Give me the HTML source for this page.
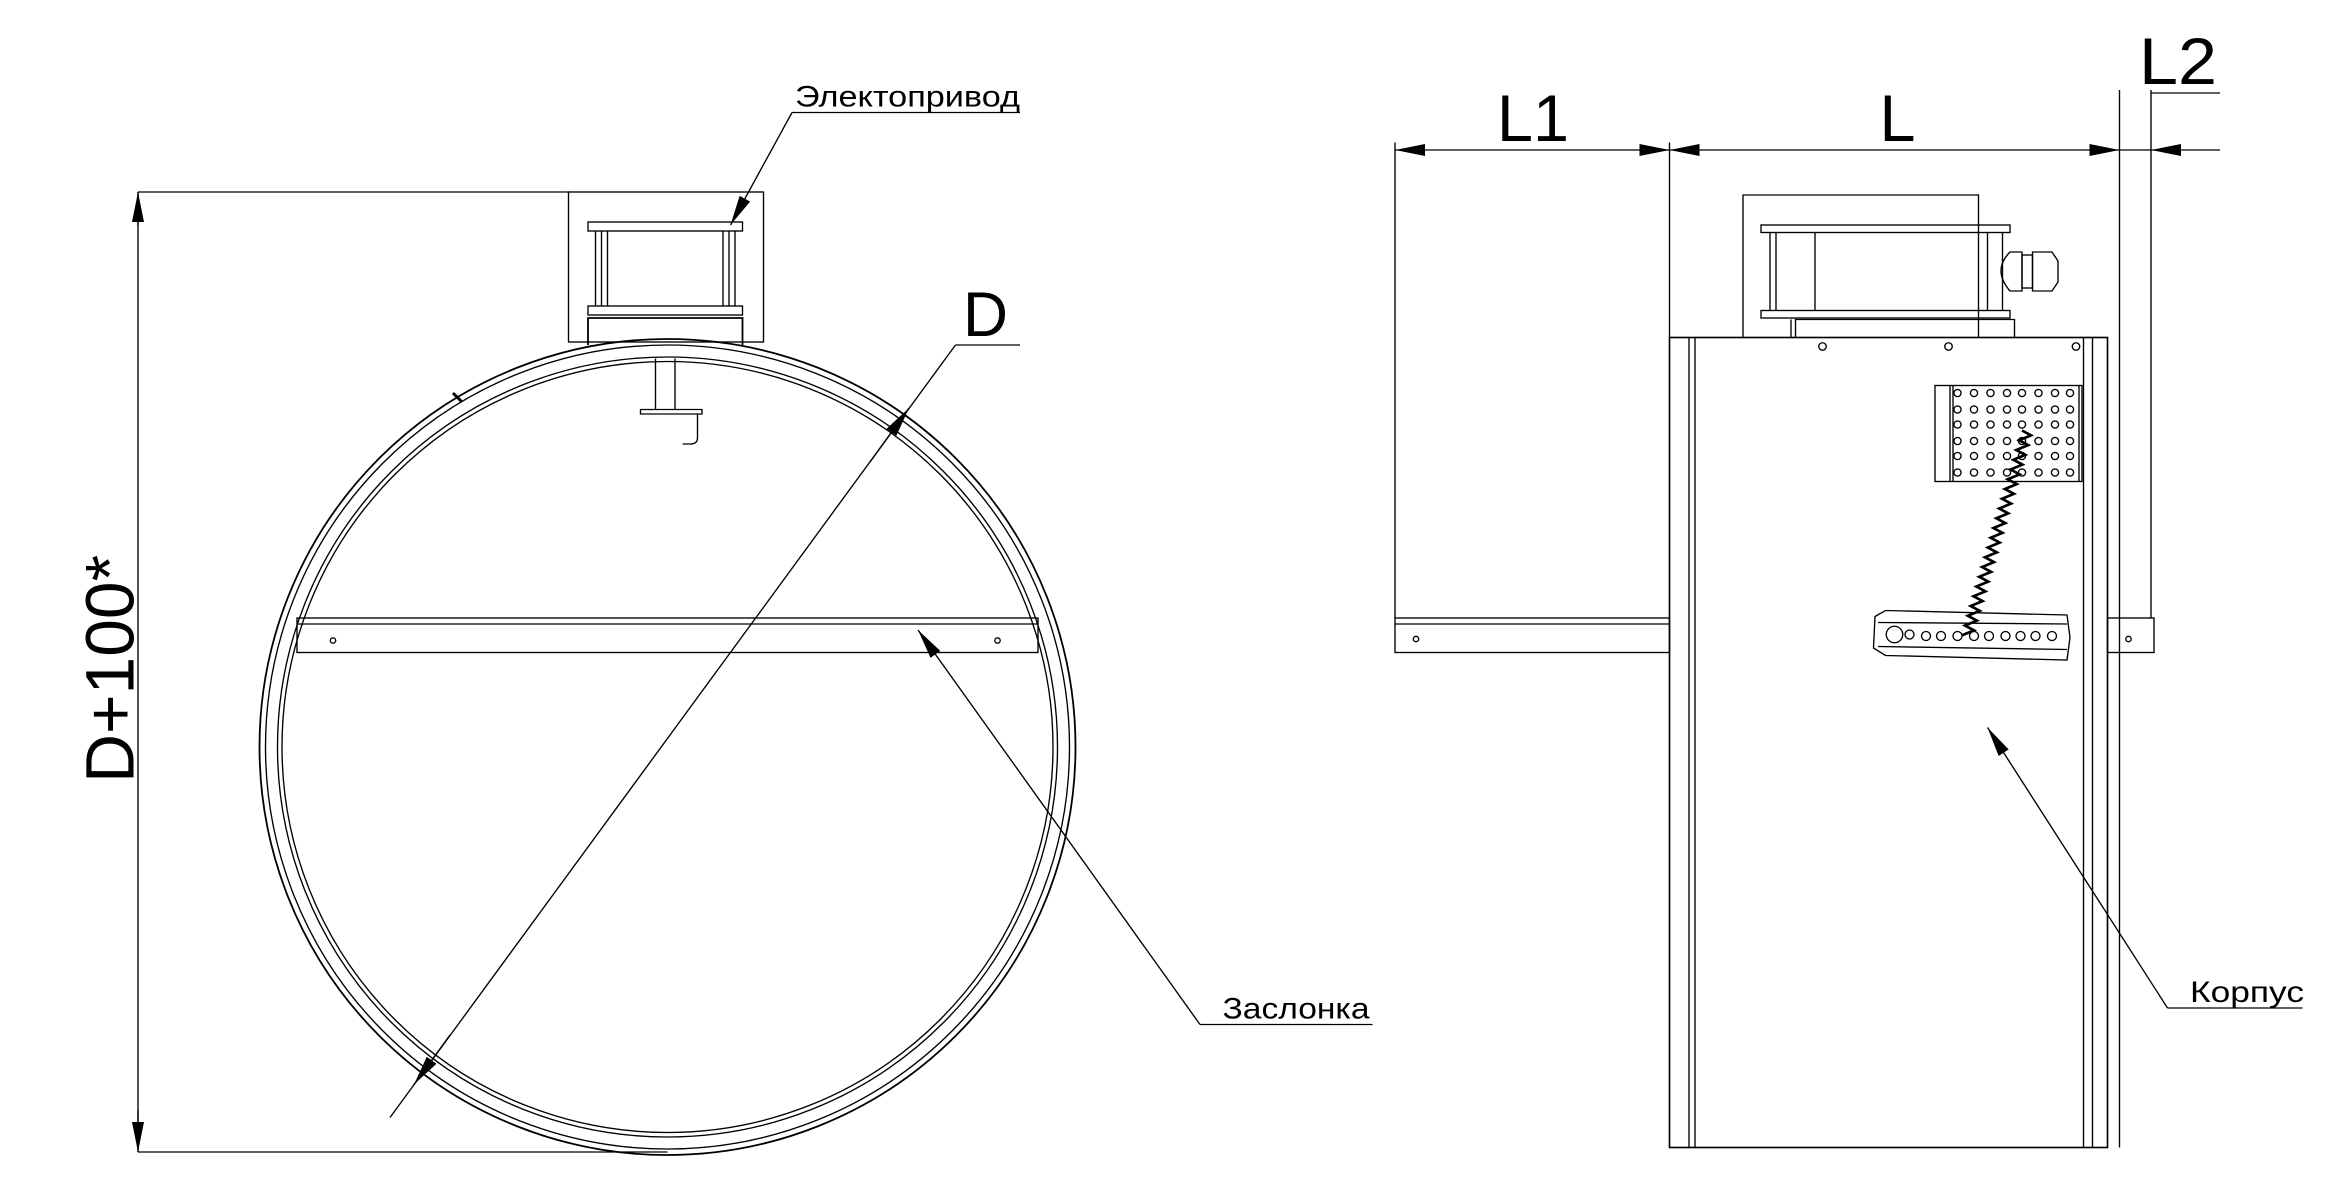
<!DOCTYPE html>
<html><head><meta charset="utf-8"><style>
html,body{margin:0;padding:0;background:#fff;}
svg{display:block;}
text{font-family:"Liberation Sans","DejaVu Sans",sans-serif;fill:#000;}
</style></head><body>
<svg width="2340" height="1197" viewBox="0 0 1560 798" xmlns="http://www.w3.org/2000/svg">
<defs>
<marker id="a" viewBox="0 0 20 8" refX="20" refY="4" markerWidth="20" markerHeight="8" markerUnits="userSpaceOnUse" orient="auto"><path d="M0,0 L20,4 L0,8 z" fill="#000"/></marker>
</defs>
<g fill="none" stroke="#000" stroke-width="0.9">
<line x1="92" y1="128" x2="380" y2="128"/>
<line x1="92" y1="768" x2="445" y2="768"/>
<line x1="92" y1="128" x2="92" y2="768"/>
<line x1="92" y1="150" x2="92" y2="128" marker-end="url(#a)"/>
<line x1="92" y1="740" x2="92" y2="768" marker-end="url(#a)"/>
<circle cx="445" cy="498" r="272" stroke-width="1.2"/>
<circle cx="445" cy="498" r="268"/>
<circle cx="445" cy="498" r="260"/>
<circle cx="445" cy="498" r="257"/>
<rect x="379" y="128" width="130" height="100"/>
<rect x="392" y="148" width="103" height="6"/>
<rect x="392" y="204" width="103" height="6"/>
<line x1="397" y1="154" x2="397" y2="204"/><line x1="401" y1="154" x2="401" y2="204"/><line x1="405" y1="154" x2="405" y2="204"/>
<line x1="482" y1="154" x2="482" y2="204"/><line x1="486" y1="154" x2="486" y2="204"/><line x1="490" y1="154" x2="490" y2="204"/>
<path d="M392 230 L392 212 L495 212 L495 230" stroke-width="1.2"/>
<path d="M437 239 L437 273 M450 239 L450 273 M427 273 L468 273 L468 276 L427 276 z"/>
<path d="M465 276 L465 292 Q465 296 460 296 L455 296"/>
<line x1="302" y1="262" x2="308" y2="268" stroke-width="2"/>
<rect x="198" y="412" width="494" height="23"/>
<line x1="198" y1="416" x2="692" y2="416"/>
<circle cx="222" cy="427" r="1.8"/><circle cx="665" cy="427" r="1.8"/>
<line x1="260" y1="745" x2="637" y2="230"/>
<line x1="637" y1="230" x2="680" y2="230"/>
<line x1="300" y1="690" x2="276" y2="723" marker-end="url(#a)"/>
<line x1="580" y1="308" x2="606" y2="272" marker-end="url(#a)"/>
<line x1="528" y1="75" x2="680" y2="75"/>
<line x1="528" y1="75" x2="487" y2="150" marker-end="url(#a)"/>
<line x1="800" y1="683" x2="915" y2="683"/>
<line x1="800" y1="683" x2="612" y2="420" marker-end="url(#a)"/>

<line x1="930" y1="95" x2="930" y2="412"/>
<line x1="1113" y1="95" x2="1113" y2="225"/>
<line x1="1413" y1="60" x2="1413" y2="765"/>
<line x1="1434" y1="60" x2="1434" y2="412"/>
<line x1="1434" y1="62" x2="1480" y2="62"/>
<line x1="1020" y1="100" x2="930" y2="100" marker-end="url(#a)"/>
<line x1="1020" y1="100" x2="1113" y2="100" marker-end="url(#a)"/>
<line x1="1260" y1="100" x2="1113" y2="100" marker-end="url(#a)"/>
<line x1="1260" y1="100" x2="1413" y2="100" marker-end="url(#a)"/>
<line x1="1413" y1="100" x2="1434" y2="100"/>
<line x1="1480" y1="100" x2="1434" y2="100" marker-end="url(#a)"/>
<rect x="1113" y="225" width="292" height="540" stroke-width="1.1"/>
<line x1="1126" y1="225" x2="1126" y2="765"/><line x1="1130" y1="225" x2="1130" y2="765"/>
<line x1="1389" y1="225" x2="1389" y2="765"/><line x1="1395" y1="225" x2="1395" y2="765"/>
<rect x="930" y="412" width="183" height="23"/>
<line x1="930" y1="416" x2="1113" y2="416"/>
<circle cx="944" cy="426" r="1.8"/>
<rect x="1405" y="412" width="31" height="23"/>
<circle cx="1419" cy="426" r="1.8"/>
<path d="M1162 225 L1162 130 L1319 130 L1319 225"/>
<rect x="1174" y="150" width="166" height="5"/>
<rect x="1174" y="207" width="166" height="5"/>
<line x1="1180" y1="155" x2="1180" y2="207"/><line x1="1184" y1="155" x2="1184" y2="207"/>
<line x1="1210" y1="155" x2="1210" y2="207"/>
<line x1="1325" y1="155" x2="1325" y2="207"/><line x1="1335" y1="155" x2="1335" y2="207"/>
<path d="M1197 225 L1197 213 L1343 213 L1343 225"/>
<line x1="1194" y1="213" x2="1194" y2="225"/>
<path d="M1340 168 Q1328 180 1340 194 L1348 194 L1348 168 z"/>
<rect x="1348" y="170" width="7" height="22"/>
<path d="M1355 168 L1368 168 L1372 174 L1372 188 L1368 194 L1355 194 z"/>
<circle cx="1215" cy="231" r="2.5"/><circle cx="1299" cy="231" r="2.5"/><circle cx="1384" cy="231" r="2.5"/>
<rect x="1290" y="257" width="98" height="64"/>
<line x1="1300" y1="257" x2="1300" y2="321"/><line x1="1302" y1="257" x2="1302" y2="321"/>
<line x1="1386" y1="257" x2="1386" y2="321"/>
<g id="holes">
<circle cx="1305" cy="262" r="2.4"/><circle cx="1316" cy="262" r="2.4"/><circle cx="1327" cy="262" r="2.4"/><circle cx="1338" cy="262" r="2.4"/><circle cx="1348" cy="262" r="2.4"/><circle cx="1359" cy="262" r="2.4"/><circle cx="1370" cy="262" r="2.4"/><circle cx="1380" cy="262" r="2.4"/>
</g>
<use href="#holes" y="11"/><use href="#holes" y="21"/><use href="#holes" y="32"/><use href="#holes" y="42"/><use href="#holes" y="53"/>
<path d="M1348 287 l6 3.25 l-7.9 3.25 l6 3.25 l-7.9 3.25 l6 3.25 l-7.9 3.25 l6 3.25 l-7.9 3.25 l6 3.25 l-7.9 3.25 l6 3.25 l-7.9 3.25 l6 3.25 l-7.9 3.25 l6 3.25 l-7.9 3.25 l6 3.25 l-7.9 3.25 l6 3.25 l-7.9 3.25 l6 3.25 l-7.9 3.25 l6 3.25 l-7.9 3.25 l6 3.25 l-7.9 3.25 l6 3.25 l-7.9 3.25 l6 3.25 l-7.9 3.25 l6 3.25 l-7.9 3.25 l6 3.25 l-7.9 3.25 l6 3.25 l-7.9 3.25 l6 3.25 l-7.9 3.25 l6 3.25 l-7.9 3.25 l6 3.25 l-7.9 3.25" stroke-width="1.8"/>
<path d="M1250 411 L1257 407 L1378 410 L1380 425 L1378 440 L1257 437 L1249 432 z"/>
<line x1="1252" y1="415" x2="1378" y2="416"/><line x1="1252" y1="431" x2="1378" y2="433"/>
<circle cx="1263" cy="423" r="5.5"/>
<circle cx="1273" cy="423" r="3"/><circle cx="1284" cy="424" r="3"/><circle cx="1294" cy="424" r="3"/><circle cx="1305" cy="424" r="3"/><circle cx="1316" cy="424" r="3"/><circle cx="1326" cy="424" r="3"/><circle cx="1337" cy="424" r="3"/><circle cx="1347" cy="424" r="3"/><circle cx="1357" cy="424" r="3"/><circle cx="1368" cy="424" r="3"/>
<line x1="1445" y1="672" x2="1535" y2="672"/>
<line x1="1445" y1="672" x2="1325" y2="485" marker-end="url(#a)"/>
</g>
<text x="530" y="71" font-size="20" textLength="150" lengthAdjust="spacingAndGlyphs">Электопривод</text>
<text x="642" y="224" font-size="42" textLength="30" lengthAdjust="spacingAndGlyphs">D</text>
<text x="815" y="679" font-size="20" textLength="98" lengthAdjust="spacingAndGlyphs">Заслонка</text>
<text x="1460" y="668" font-size="20" textLength="76" lengthAdjust="spacingAndGlyphs">Корпус</text>
<text x="998" y="94" font-size="44" textLength="48" lengthAdjust="spacingAndGlyphs">L1</text>
<text x="1253" y="94" font-size="44" textLength="24" lengthAdjust="spacingAndGlyphs">L</text>
<text x="1426" y="56" font-size="44" textLength="52" lengthAdjust="spacingAndGlyphs">L2</text>
<text transform="translate(89 522) rotate(-90)" font-size="46" textLength="152" lengthAdjust="spacingAndGlyphs">D+100*</text>
</svg>
</body></html>
